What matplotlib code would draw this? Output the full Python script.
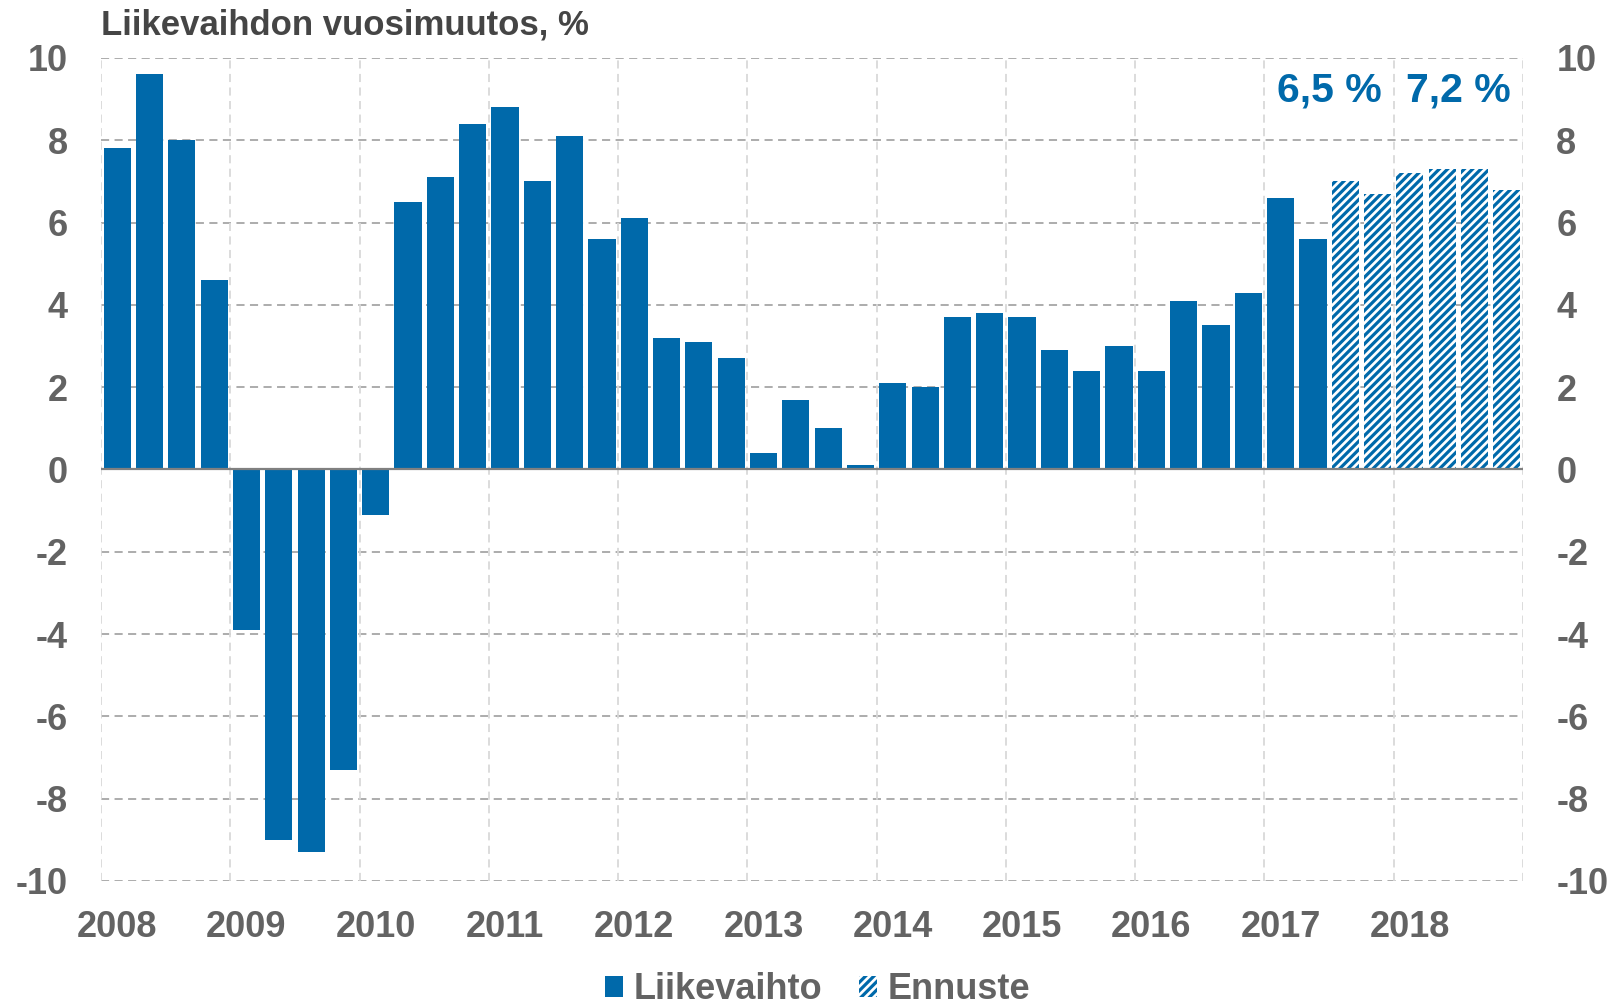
import matplotlib
matplotlib.use("Agg")
import matplotlib.pyplot as plt
from matplotlib.patches import Patch
import numpy as np

# ---- data ----
years = ["2008", "2009", "2010", "2011", "2012", "2013",
         "2014", "2015", "2016", "2017", "2018"]
actual = [7.8, 9.6, 8.0, 4.6,
          -3.9, -9.0, -9.3, -7.3,
          -1.1, 6.5, 7.1, 8.4,
          8.8, 7.0, 8.1, 5.6,
          6.1, 3.2, 3.1, 2.7,
          0.4, 1.7, 1.0, 0.1,
          2.1, 2.0, 3.7, 3.8,
          3.7, 2.9, 2.4, 3.0,
          2.4, 4.1, 3.5, 4.3,
          6.6, 5.6]
forecast = [7.0, 6.7,
            7.2, 7.3, 7.3, 6.8]
annual_labels = ["6,5 %", "7,2 %"]
annual_years = ["2017", "2018"]
y_ticks = [-10, -8, -6, -4, -2, 0, 2, 4, 6, 8, 10]
title = "Liikevaihdon vuosimuutos, %"
legend_labels = ["Liikevaihto", "Ennuste"]

BLUE = "#0069AA"
GRAY_TXT = "#636363"

plt.rcParams["font.family"] = ["Liberation Sans", "DejaVu Sans"]
plt.rcParams["font.weight"] = "bold"
plt.rcParams["axes.unicode_minus"] = False
plt.rcParams["hatch.linewidth"] = 2.3

fig = plt.figure(figsize=(16.19, 10.08), dpi=100)
ax = fig.add_axes([0.0624, 0.126, 0.8783, 0.8165])

n_act = len(actual)
x_act = np.arange(n_act)
x_fc = np.arange(n_act, n_act + len(forecast))
width = 0.84
HATCH = "////"

ax.bar(x_act, actual, width=width, color=BLUE, linewidth=0, zorder=3)
ax.bar(x_fc, forecast, width=width, facecolor="white", edgecolor=BLUE,
       linewidth=0, hatch=HATCH, zorder=3)

n_total = n_act + len(forecast)
ax.set_xlim(-0.5, n_total - 0.5)
ax.set_ylim(-10, 10)

# horizontal grid
for yv in y_ticks:
    if yv == 0:
        continue
    ax.axhline(yv, color="#A6A6A6", lw=1.3, ls=(0, (4.5, 3)), zorder=1)
ax.axhline(0, color="#808080", lw=1.6, zorder=4)
# vertical grid at year boundaries
for i in range(len(years) + 1):
    ax.axvline(i * 4 - 0.5, color="#D9D9D9", lw=1.3, ls=(0, (4.5, 3)), zorder=1)

ax.set_xticks([i * 4 for i in range(len(years))])
ax.set_xticklabels(years)
ax.set_yticks(y_ticks)
ax.set_yticklabels([str(v) for v in y_ticks])
ax.tick_params(axis="x", length=0, pad=21, labelsize=26, labelcolor=GRAY_TXT)
ax.tick_params(axis="y", length=0, pad=24, labelsize=26, labelcolor=GRAY_TXT,
               labelleft=True, labelright=True)
for s in ax.spines.values():
    s.set_visible(False)

# annual forecast annotations
for lab, yr in zip(annual_labels, annual_years):
    idx = years.index(yr)
    ax.text(idx * 4 + 1.5, 9.2, lab, ha="center", va="center",
            fontsize=29.5, fontweight="bold", color=BLUE, zorder=5)

fig.text(0.0624, 1 - 25 / 1008, title, ha="left", va="center",
         fontsize=25, fontweight="bold", color="#454545")

handles = [Patch(facecolor=BLUE, edgecolor=BLUE, linewidth=0),
           Patch(facecolor="white", edgecolor=BLUE, linewidth=0, hatch=HATCH)]
leg = fig.legend(handles, legend_labels, loc="center", bbox_to_anchor=(0.505, 0.018),
                 ncol=2, frameon=False, fontsize=26, handlelength=0.5,
                 handleheight=0.5, handletextpad=0.3, columnspacing=1.0,
                 borderpad=0)
for t in leg.get_texts():
    t.set_color(GRAY_TXT)

fig.savefig("out.png", dpi=100)
